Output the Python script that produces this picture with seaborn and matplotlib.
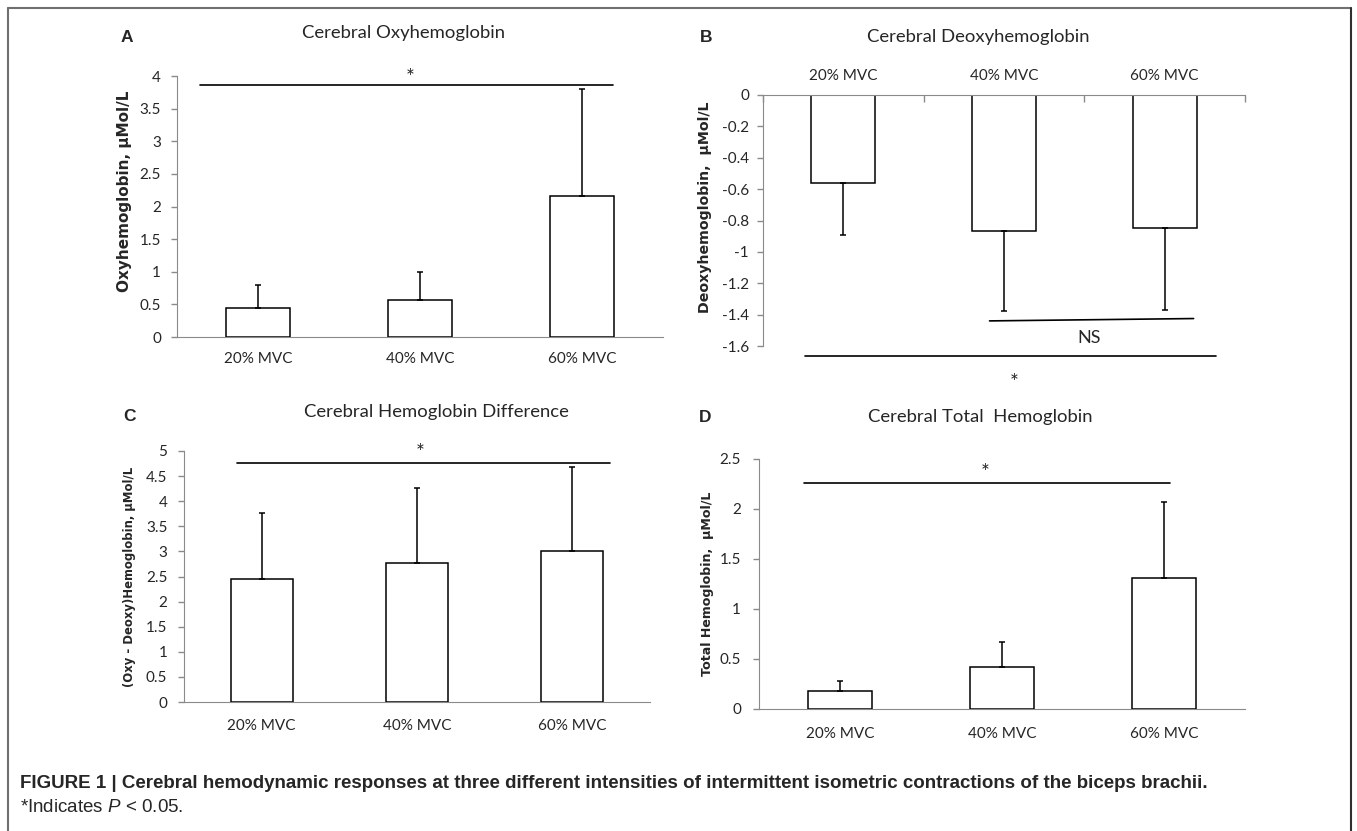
import matplotlib
matplotlib.use('Agg')
import matplotlib.pyplot as plt
import seaborn as sns
import pandas as pd
from matplotlib.lines import Line2D

# values (mean and one-sided SD error bar)
conditions = ['20% MVC', '40% MVC', '60% MVC']

oxy_mean = [0.45, 0.57, 2.16]
oxy_sd = [0.34, 0.42, 1.64]

deoxy_mean = [-0.56, -0.87, -0.85]
deoxy_sd = [0.33, 0.51, 0.52]

diff_mean = [2.45, 2.76, 3.01]
diff_sd = [1.32, 1.51, 1.67]

total_mean = [0.18, 0.42, 1.31]
total_sd = [0.10, 0.25, 0.76]

sns.set_style('white')
plt.rcParams['font.family'] = ['Lato', 'DejaVu Sans']
plt.rcParams['axes.unicode_minus'] = False
plt.rcParams['mathtext.fontset'] = 'custom'
plt.rcParams['mathtext.rm'] = 'Liberation Sans'
plt.rcParams['mathtext.it'] = 'Liberation Sans:italic'

W, H = 1357, 831
fig = plt.figure(figsize=(W / 100, H / 100), dpi=100)
AXIS_GREY = '#8a8a8a'


def px_axes(left, top, right, bottom):
    return fig.add_axes([left / W, 1 - bottom / H, (right - left) / W, (bottom - top) / H])


def draw_panel(ax, means, sds, ylim, step, ylabel, label_xy, label_size, ypad, xpad,
               negative=False):
    df = pd.DataFrame({'condition': conditions, 'value': means})
    sns.barplot(data=df, x='condition', y='value', ax=ax, color='white', saturation=1,
                edgecolor='black', linewidth=1.1, width=0.4, errorbar=None)
    zeros = [0] * len(means)
    yerr = [sds, zeros] if negative else [zeros, sds]
    ax.errorbar(range(len(means)), means, yerr=yerr, fmt='none', ecolor='black',
                elinewidth=1.1, capsize=2.3, capthick=1.1)
    ax.set_xlim(-0.5, 2.5)
    ax.set_ylim(*ylim)
    n = int(round((ylim[1] - ylim[0]) / step))
    ticks = [round(ylim[0] + i * step, 2) for i in range(n + 1)]
    ax.set_yticks(ticks)
    ax.set_yticklabels([f'{t:g}' for t in ticks])
    ax.set_xlabel('')
    ax.set_ylabel(ylabel, fontfamily='DejaVu Sans', fontweight='bold', fontsize=label_size)
    ax.yaxis.set_label_coords(*label_xy)
    for s in ax.spines.values():
        s.set_visible(False)
    ax.spines['left'].set_visible(True)
    ax.spines['left'].set_color(AXIS_GREY)
    xs = 'top' if negative else 'bottom'
    ax.spines[xs].set_visible(True)
    ax.spines[xs].set_color(AXIS_GREY)
    if negative:
        ax.xaxis.tick_top()
    ax.set_xticks([-0.5, 0.5, 1.5, 2.5], minor=True)
    ax.tick_params(axis='x', which='major', length=0, labelsize=11, pad=xpad)
    ax.tick_params(axis='x', which='minor', length=5, width=1, color=AXIS_GREY,
                   direction='in' if negative else 'out')
    ax.tick_params(axis='y', length=4, width=1, color=AXIS_GREY, labelsize=11, pad=ypad,
                   left=True)


def bracket(ax, x0, x1, y0, y1=None, text='*', tx=None, ty=None, size=15, shift=-6):
    y1 = y0 if y1 is None else y1
    ax.plot([x0, x1], [y0, y1], color='black', lw=1.2, clip_on=False)
    ax.annotate(text, xy=(tx, ty), xytext=(0, shift), textcoords='offset pixels',
                ha='center', va='center', fontsize=size, annotation_clip=False)


# A
axA = px_axes(177, 76, 663, 337)
draw_panel(axA, oxy_mean, oxy_sd, (0, 4), 0.5, 'Oxyhemoglobin, µMol/L', (-0.093, 0.56),
           11.0, 7.5, 11)
bracket(axA, -0.36, 2.19, 3.86, tx=0.94, ty=4.06)

# B
axB = px_axes(763, 95, 1245, 346)
draw_panel(axB, deoxy_mean, deoxy_sd, (-1.6, 0), 0.2, 'Deoxyhemoglobin,  µMol/L',
           (-0.106, 0.554), 10.2, 6, 9, negative=True)
bracket(axB, 0.91, 2.18, -1.44, -1.425, text='NS', tx=1.53, ty=-1.55, size=13, shift=0)
bracket(axB, -0.24, 2.32, -1.666, tx=1.06, ty=-1.80)

# C
axC = px_axes(184, 451, 650, 702)
draw_panel(axC, diff_mean, diff_sd, (0, 5), 0.5, '(Oxy - Deoxy)Hemoglobin, µMol/L',
           (-0.103, 0.5), 8.4, 8, 12.5)
bracket(axC, -0.16, 2.24, 4.767, tx=1.02, ty=5.07)

# D
axD = px_axes(759, 459, 1245, 709)
draw_panel(axD, total_mean, total_sd, (0, 2.5), 0.5, 'Total Hemoglobin,  µMol/L',
           (-0.093, 0.5), 9.1, 9, 13)
bracket(axD, -0.22, 2.04, 2.264, tx=0.895, ty=2.42)

# panel titles and letters
titles = [('A', 127, 37, 'Cerebral Oxyhemoglobin', 403, 33),
          ('B', 706, 37, 'Cerebral Deoxyhemoglobin', 978, 37),
          ('C', 129, 416, 'Cerebral Hemoglobin Difference', 436, 412),
          ('D', 705, 417, 'Cerebral Total  Hemoglobin', 980, 417)]
for letter, lx, ly, title, tx, ty in titles:
    fig.text(lx / W, 1 - ly / H, letter, fontfamily='Liberation Sans', fontweight='bold',
             fontsize=12.5, ha='center', va='center')
    fig.text(tx / W, 1 - ty / H, title, fontsize=13.3, ha='center', va='center')

# caption
fig.text(20 / W, 1 - 784 / H,
         'FIGURE 1 | Cerebral hemodynamic responses at three different intensities of '
         'intermittent isometric contractions of the biceps brachii.',
         fontfamily='Liberation Sans', fontweight='bold', fontsize=13.5, va='center')
fig.text(20 / W, 1 - 808 / H, '*Indicates $P$ < 0.05.', fontfamily='Liberation Sans',
         fontsize=13.5, va='center')

# frame around the figure (no bottom edge)
fig.add_artist(Line2D([8 / W, 8 / W], [0, 1 - 8 / H], color='#707070', lw=1.5))
fig.add_artist(Line2D([8 / W, 1351 / W], [1 - 8 / H, 1 - 8 / H], color='#707070', lw=1.5))
fig.add_artist(Line2D([1351 / W, 1351 / W], [0, 1 - 8 / H], color='#303030', lw=1.5))

fig.savefig('out.png', dpi=100)
